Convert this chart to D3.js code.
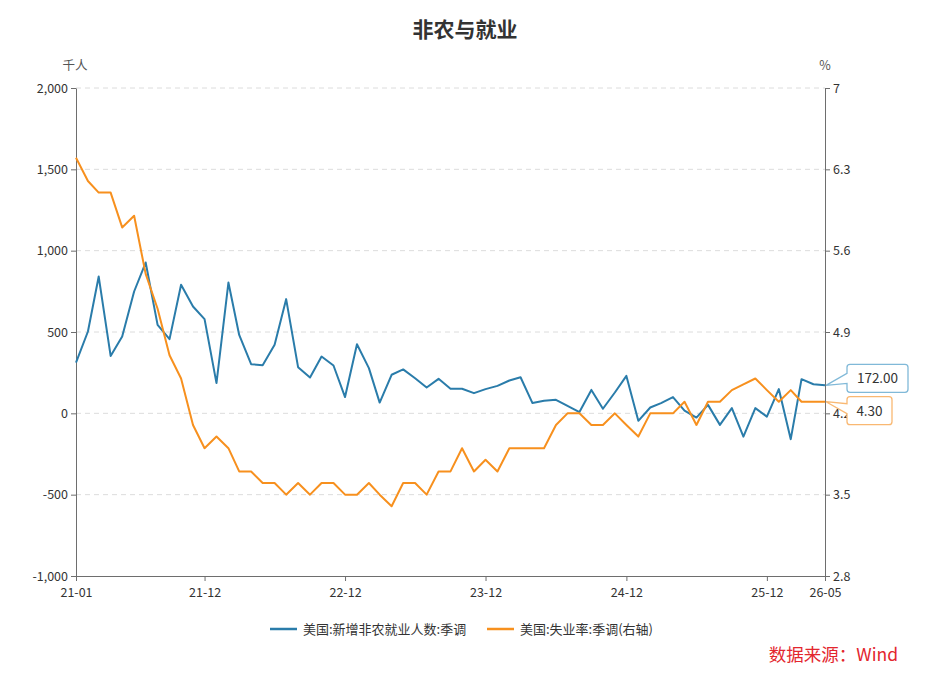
<!DOCTYPE html>
<html>
<head>
<meta charset="utf-8">
<script src="https://cdn.jsdelivr.net/npm/d3@7"></script>
<style>
  body { margin: 0; background: #fff; }
  svg { font-family: "Noto Sans CJK SC", "Noto Sans", sans-serif; }
</style>
</head>
<body>
<svg id="chart" width="932" height="680"></svg>
<script>
// monthly, 2021-01 .. 2026-05
const startMonth = new Date(2021, 0, 1);
const payrolls = [312, 503, 841, 353, 472, 749, 927, 544, 456, 790, 657, 579,
    186, 804, 482, 302, 296, 421, 702, 284, 220, 349, 294, 100,
    425, 278, 66, 237, 270, 216, 159, 212, 151, 151, 124, 149,
    169, 202, 222, 63, 77, 83, 46, 8, 144, 28, 128, 230,
    -46, 36, 63, 100, 17, -26, 52, -71, 32, -143, 32, -20,
    149, -159, 210, 179, 172];
const unemployment = [6.4, 6.2, 6.1, 6.1, 5.8, 5.9, 5.4, 5.1, 4.7, 4.5, 4.1, 3.9,
    4.0, 3.9, 3.7, 3.7, 3.6, 3.6, 3.5, 3.6, 3.5, 3.6, 3.6, 3.5,
    3.5, 3.6, 3.5, 3.4, 3.6, 3.6, 3.5, 3.7, 3.7, 3.9, 3.7, 3.8,
    3.7, 3.9, 3.9, 3.9, 3.9, 4.1, 4.2, 4.2, 4.1, 4.1, 4.2, 4.1,
    4.0, 4.2, 4.2, 4.2, 4.3, 4.1, 4.3, 4.3, 4.4, 4.45, 4.5, 4.4,
    4.3, 4.4, 4.3, 4.3, 4.3];
const xTickLabels = ["21-01", "21-12", "22-12", "23-12", "24-12", "25-12", "26-05"];
const leftTicks = [-1000, -500, 0, 500, 1000, 1500, 2000];
const rightTicks = [2.8, 3.5, 4.2, 4.9, 5.6, 6.3, 7];
const seriesNames = ["美国:新增非农就业人数:季调", "美国:失业率:季调(右轴)"];

const blue = "#2a7caa", orange = "#f7901e";
const fmtMonth = d3.timeFormat("%y-%m");
const fmtThousands = d => d3.format(",")(d).replace("−", "-");
const dates = payrolls.map((d, i) => d3.timeMonth.offset(startMonth, i));

const margin = {top: 88, right: 107, bottom: 104, left: 76};
const W = 932, H = 680;
const svg = d3.select("#chart");

const x = d3.scaleTime()
    .domain([dates[0], dates[dates.length - 1]])
    .range([margin.left, W - margin.right]);
const yL = d3.scaleLinear().domain([-1000, 2000]).range([H - margin.bottom, margin.top]);
const yR = d3.scaleLinear().domain([2.8, 7]).range([H - margin.bottom, margin.top]);

// grid
svg.append("g").selectAll("line")
    .data(leftTicks.filter(d => d > -1000))
    .join("line")
    .attr("x1", margin.left).attr("x2", W - margin.right)
    .attr("y1", d => yL(d)).attr("y2", d => yL(d))
    .attr("stroke", "#dcdcdc").attr("stroke-dasharray", "5,4");

// axes
const xTickDates = xTickLabels.map(s => d3.timeParse("%y-%m")(s));
const xAxis = svg.append("g")
    .attr("transform", `translate(0,${H - margin.bottom})`)
    .call(d3.axisBottom(x).tickValues(xTickDates).tickFormat(fmtMonth).tickSize(5).tickSizeOuter(0));
const leftAxis = svg.append("g")
    .attr("transform", `translate(${margin.left},0)`)
    .call(d3.axisLeft(yL).tickValues(leftTicks).tickFormat(fmtThousands).tickSize(5).tickSizeOuter(0));
const rightAxis = svg.append("g")
    .attr("transform", `translate(${W - margin.right},0)`)
    .call(d3.axisRight(yR).tickValues(rightTicks).tickFormat(d => d).tickSize(5).tickSizeOuter(0));

[xAxis, leftAxis, rightAxis].forEach(g => {
    g.select(".domain").attr("stroke", "#6e6e6e");
    g.selectAll(".tick line").attr("stroke", "#6e6e6e");
    g.selectAll(".tick text").attr("fill", "#333").style("font-size", "12.5px")
        .style("font-family", "'Noto Sans CJK SC', sans-serif");
});
xAxis.selectAll(".tick text").attr("dy", "1.0em");

// axis names
svg.append("text").attr("x", margin.left - 1).attr("y", 70).attr("text-anchor", "middle")
    .attr("fill", "#555").style("font-size", "12.5px").text("千人");
svg.append("text").attr("x", W - margin.right).attr("y", 70).attr("text-anchor", "middle")
    .attr("fill", "#555").style("font-size", "12.5px").text("%");

// title
svg.append("text").attr("x", 465).attr("y", 37).attr("text-anchor", "middle")
    .attr("fill", "#333").style("font-size", "21px").style("font-weight", "bold").text("非农与就业");

// lines
const lineL = d3.line().x((d, i) => x(dates[i])).y(d => yL(d));
const lineR = d3.line().x((d, i) => x(dates[i])).y(d => yR(d));
svg.append("path").datum(payrolls).attr("d", lineL)
    .attr("fill", "none").attr("stroke", blue).attr("stroke-width", 2).attr("stroke-linejoin", "round");
svg.append("path").datum(unemployment).attr("d", lineR)
    .attr("fill", "none").attr("stroke", orange).attr("stroke-width", 2).attr("stroke-linejoin", "round");

// end callouts
function callout(px, py, boxX, boxY, w, h, stroke, label) {
    const r = 3;
    const t1 = py < boxY + h / 2 ? boxY + 7 : boxY + 9;
    const path = d3.path();
    path.moveTo(boxX + r, boxY);
    path.lineTo(boxX + w - r, boxY);
    path.quadraticCurveTo(boxX + w, boxY, boxX + w, boxY + r);
    path.lineTo(boxX + w, boxY + h - r);
    path.quadraticCurveTo(boxX + w, boxY + h, boxX + w - r, boxY + h);
    path.lineTo(boxX + r, boxY + h);
    path.quadraticCurveTo(boxX, boxY + h, boxX, boxY + h - r);
    path.lineTo(boxX, t1 + 10);
    path.lineTo(px, py);
    path.lineTo(boxX, t1);
    path.lineTo(boxX, boxY + r);
    path.quadraticCurveTo(boxX, boxY, boxX + r, boxY);
    svg.append("path").attr("d", path.toString())
        .attr("fill", "#fff").attr("stroke", stroke).attr("stroke-width", 1.3);
    svg.append("text").attr("x", boxX + w / 2).attr("y", boxY + h / 2 + 5)
        .attr("text-anchor", "middle").attr("fill", "#333").style("font-size", "13.5px").text(label);
}
const last = payrolls.length - 1;
const ex = x(dates[last]);
callout(ex + 1, yL(payrolls[last]), ex + 22, yL(payrolls[last]) - 21, 61, 28, "#80b9d8", d3.format(".2f")(payrolls[last]));
callout(ex + 1, yR(unemployment[last]), ex + 22, yR(unemployment[last]) - 5, 45, 28, "#f9b872", d3.format(".2f")(unemployment[last]));

// legend
const legend = svg.append("g").attr("transform", "translate(270,629)");
const legendItems = [{name: seriesNames[0], color: blue, x: 0}, {name: seriesNames[1], color: orange, x: 217}];
legendItems.forEach(it => {
    legend.append("line").attr("x1", it.x).attr("x2", it.x + 27).attr("y1", 0).attr("y2", 0)
        .attr("stroke", it.color).attr("stroke-width", 2.5);
    legend.append("text").attr("x", it.x + 33).attr("y", 4.5).attr("fill", "#333")
        .style("font-size", "13px").text(it.name);
});

// source
svg.append("text").attr("x", 898).attr("y", 661).attr("text-anchor", "end")
    .attr("fill", "#e3262e").style("font-size", "17.5px").text("数据来源：Wind");
</script>
</body>
</html>
